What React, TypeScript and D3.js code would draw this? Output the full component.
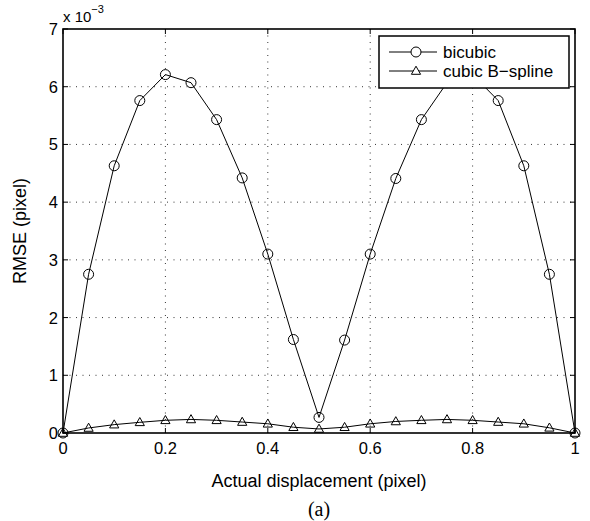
import React from "react";
import * as d3 from "d3";

const xValues = [0, 0.05, 0.1, 0.15, 0.2, 0.25, 0.3, 0.35, 0.4, 0.45, 0.5, 0.55, 0.6, 0.65, 0.7, 0.75, 0.8, 0.85, 0.9, 0.95, 1];
const bicubic = [0, 2.75, 4.63, 5.76, 6.21, 6.07, 5.43, 4.42, 3.1, 1.62, 0.27, 1.61, 3.1, 4.41, 5.43, 6.07, 6.21, 5.76, 4.63, 2.75, 0];
const bspline = [0, 0.087, 0.145, 0.185, 0.22, 0.235, 0.22, 0.19, 0.16, 0.1, 0.07, 0.1, 0.16, 0.2, 0.22, 0.235, 0.22, 0.19, 0.16, 0.09, 0];
const xTicks = [0, 0.2, 0.4, 0.6, 0.8, 1];
const yTicks = [0, 1, 2, 3, 4, 5, 6, 7];
const seriesNames = ["bicubic", "cubic B\u2212spline"];

const W = 590, H = 521;
const L = 63, R = 575, T = 29, B = 433;
const font = "'Liberation Sans', Arial, Helvetica, sans-serif";

export default function App() {
  const x = d3.scaleLinear().domain([0, 1]).range([L, R]);
  const y = d3.scaleLinear().domain([0, 7]).range([B, T]);
  const line = d3.line<number>().x((_, i) => x(xValues[i])).y((d) => y(d));
  const tri = (cx: number, cy: number) =>
    `M${cx},${cy - 4.8}L${cx + 4.6},${cy + 3.3}L${cx - 4.6},${cy + 3.3}Z`;

  const legX = 379, legY = 36, legW = 190, legH = 52;

  return (
    <svg width={W} height={H} style={{ position: "absolute", left: 0, top: 0, background: "#fff" }} fontFamily={font}>
      <rect x={0} y={0} width={W} height={H} fill="#fff" />
      {/* grid */}
      {xTicks.slice(1, -1).map((t) => (
        <line key={"gx" + t} x1={x(t)} x2={x(t)} y1={T} y2={B} stroke="#000" strokeWidth={0.8} strokeDasharray="1,5.5" />
      ))}
      {yTicks.slice(1, -1).map((t) => (
        <line key={"gy" + t} x1={L} x2={R} y1={y(t)} y2={y(t)} stroke="#000" strokeWidth={0.8} strokeDasharray="1,5.5" />
      ))}
      {/* ticks */}
      {xTicks.map((t) => (
        <g key={"tx" + t}>
          <line x1={x(t)} x2={x(t)} y1={B} y2={B - 5} stroke="#000" />
          <line x1={x(t)} x2={x(t)} y1={T} y2={T + 5} stroke="#000" />
          <text x={x(t)} y={B + 21} textAnchor="middle" fontSize={16.5}>{String(t)}</text>
        </g>
      ))}
      {yTicks.map((t) => (
        <g key={"ty" + t}>
          <line x1={L} x2={L + 5} y1={y(t)} y2={y(t)} stroke="#000" />
          <line x1={R} x2={R - 5} y1={y(t)} y2={y(t)} stroke="#000" />
          <text x={L - 5} y={y(t) + 6} textAnchor="end" fontSize={16.5}>{t}</text>
        </g>
      ))}
      {/* series */}
      <path d={line(bicubic) || ""} fill="none" stroke="#000" strokeWidth={1} />
      <path d={line(bspline) || ""} fill="none" stroke="#000" strokeWidth={1} />
      {bicubic.map((v, i) => (
        <circle key={"c" + i} cx={x(xValues[i])} cy={y(v)} r={5} fill="none" stroke="#000" strokeWidth={1} />
      ))}
      {bspline.map((v, i) => (
        <path key={"t" + i} d={tri(x(xValues[i]), y(v))} fill="none" stroke="#000" strokeWidth={1} />
      ))}
      {/* box */}
      <rect x={L} y={T} width={R - L} height={B - T} fill="none" stroke="#000" strokeWidth={1.6} />
      {/* legend */}
      <rect x={legX} y={legY} width={legW} height={legH} fill="#fff" stroke="#000" strokeWidth={1.5} />
      <line x1={legX + 10} x2={legX + 58} y1={legY + 16} y2={legY + 16} stroke="#000" />
      <circle cx={legX + 37} cy={legY + 16} r={5} fill="#fff" stroke="#000" />
      <text x={legX + 64} y={legY + 22} fontSize={17}>{seriesNames[0]}</text>
      <line x1={legX + 10} x2={legX + 58} y1={legY + 35} y2={legY + 35} stroke="#000" />
      <path d={tri(legX + 37, legY + 35)} fill="#fff" stroke="#000" />
      <text x={legX + 64} y={legY + 41} fontSize={17}>{seriesNames[1]}</text>
      {/* exponent */}
      <text x={L} y={T - 7} fontSize={15}>
        x 10<tspan dy={-9} fontSize={11}>{"\u22123"}</tspan>
      </text>
      {/* axis labels */}
      <text x={(L + R) / 2} y={B + 54} textAnchor="middle" fontSize={18}>Actual displacement (pixel)</text>
      <text transform={`translate(${L - 37},${(T + B) / 2}) rotate(-90)`} textAnchor="middle" fontSize={18}>RMSE (pixel)</text>
      <text x={(L + R) / 2} y={B + 83} textAnchor="middle" fontSize={20} fontFamily="'Liberation Serif', 'Times New Roman', serif">(a)</text>
    </svg>
  );
}
